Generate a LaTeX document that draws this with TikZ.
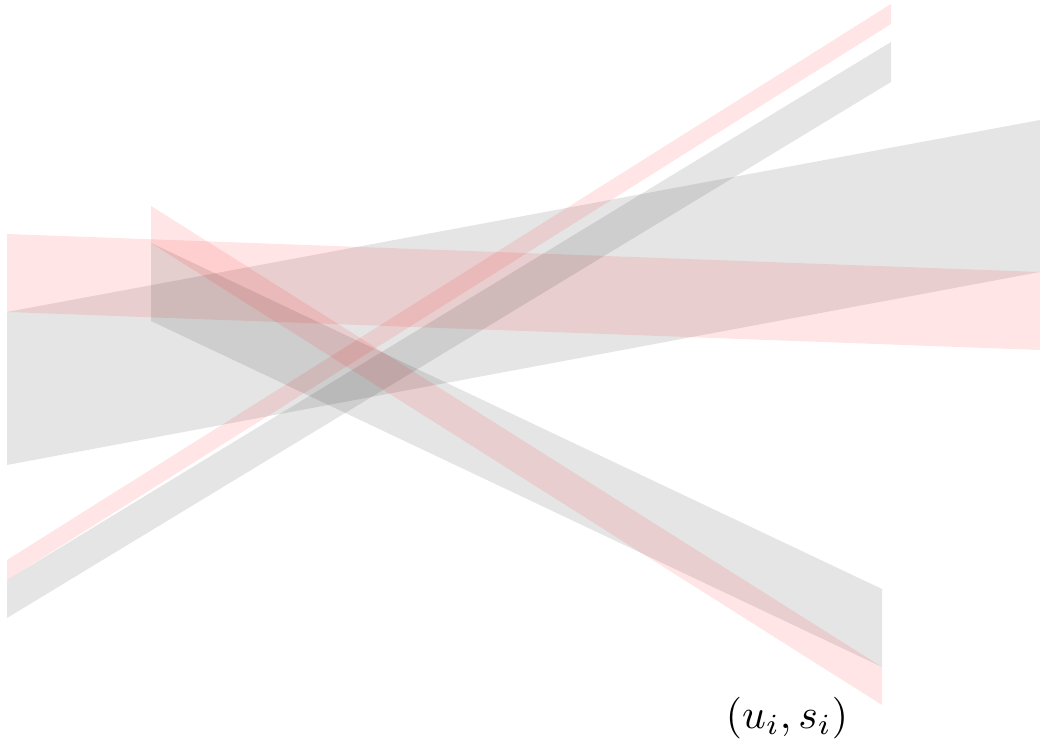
\documentclass[tikz,border=0pt]{standalone}
\usepackage{amsmath}
\usepackage{tikz}
\tikzstyle{grayband} = [fill=black, fill opacity=0.1]
\tikzstyle{redband} = [fill=red, fill opacity=0.1]

\begin{document}
\begin{tikzpicture}[x=0.24pt, y=-0.24pt]
\useasboundingbox (0,0) rectangle (1040,747);

% wide bands
\fill[grayband] (7,312) -- (1040,120) -- (1040,272) -- (7,465) -- cycle;
\fill[redband] (7,234) -- (1040,272) -- (1040,350) -- (7,312) -- cycle;

% rising bands
\fill[grayband] (7,580) -- (891,42) -- (891,82) -- (7,618) -- cycle;
\fill[redband] (7,560) -- (891,4) -- (891,24) -- (7,580) -- cycle;

% falling bands
\fill[grayband] (151,243) -- (882,589) -- (882,667) -- (151,321) -- cycle;
\fill[redband] (151,206) -- (882,667) -- (882,705) -- (151,243) -- cycle;

\node (label) at (787,718) {$(u_i, s_i)$};
\end{tikzpicture}
\end{document}
